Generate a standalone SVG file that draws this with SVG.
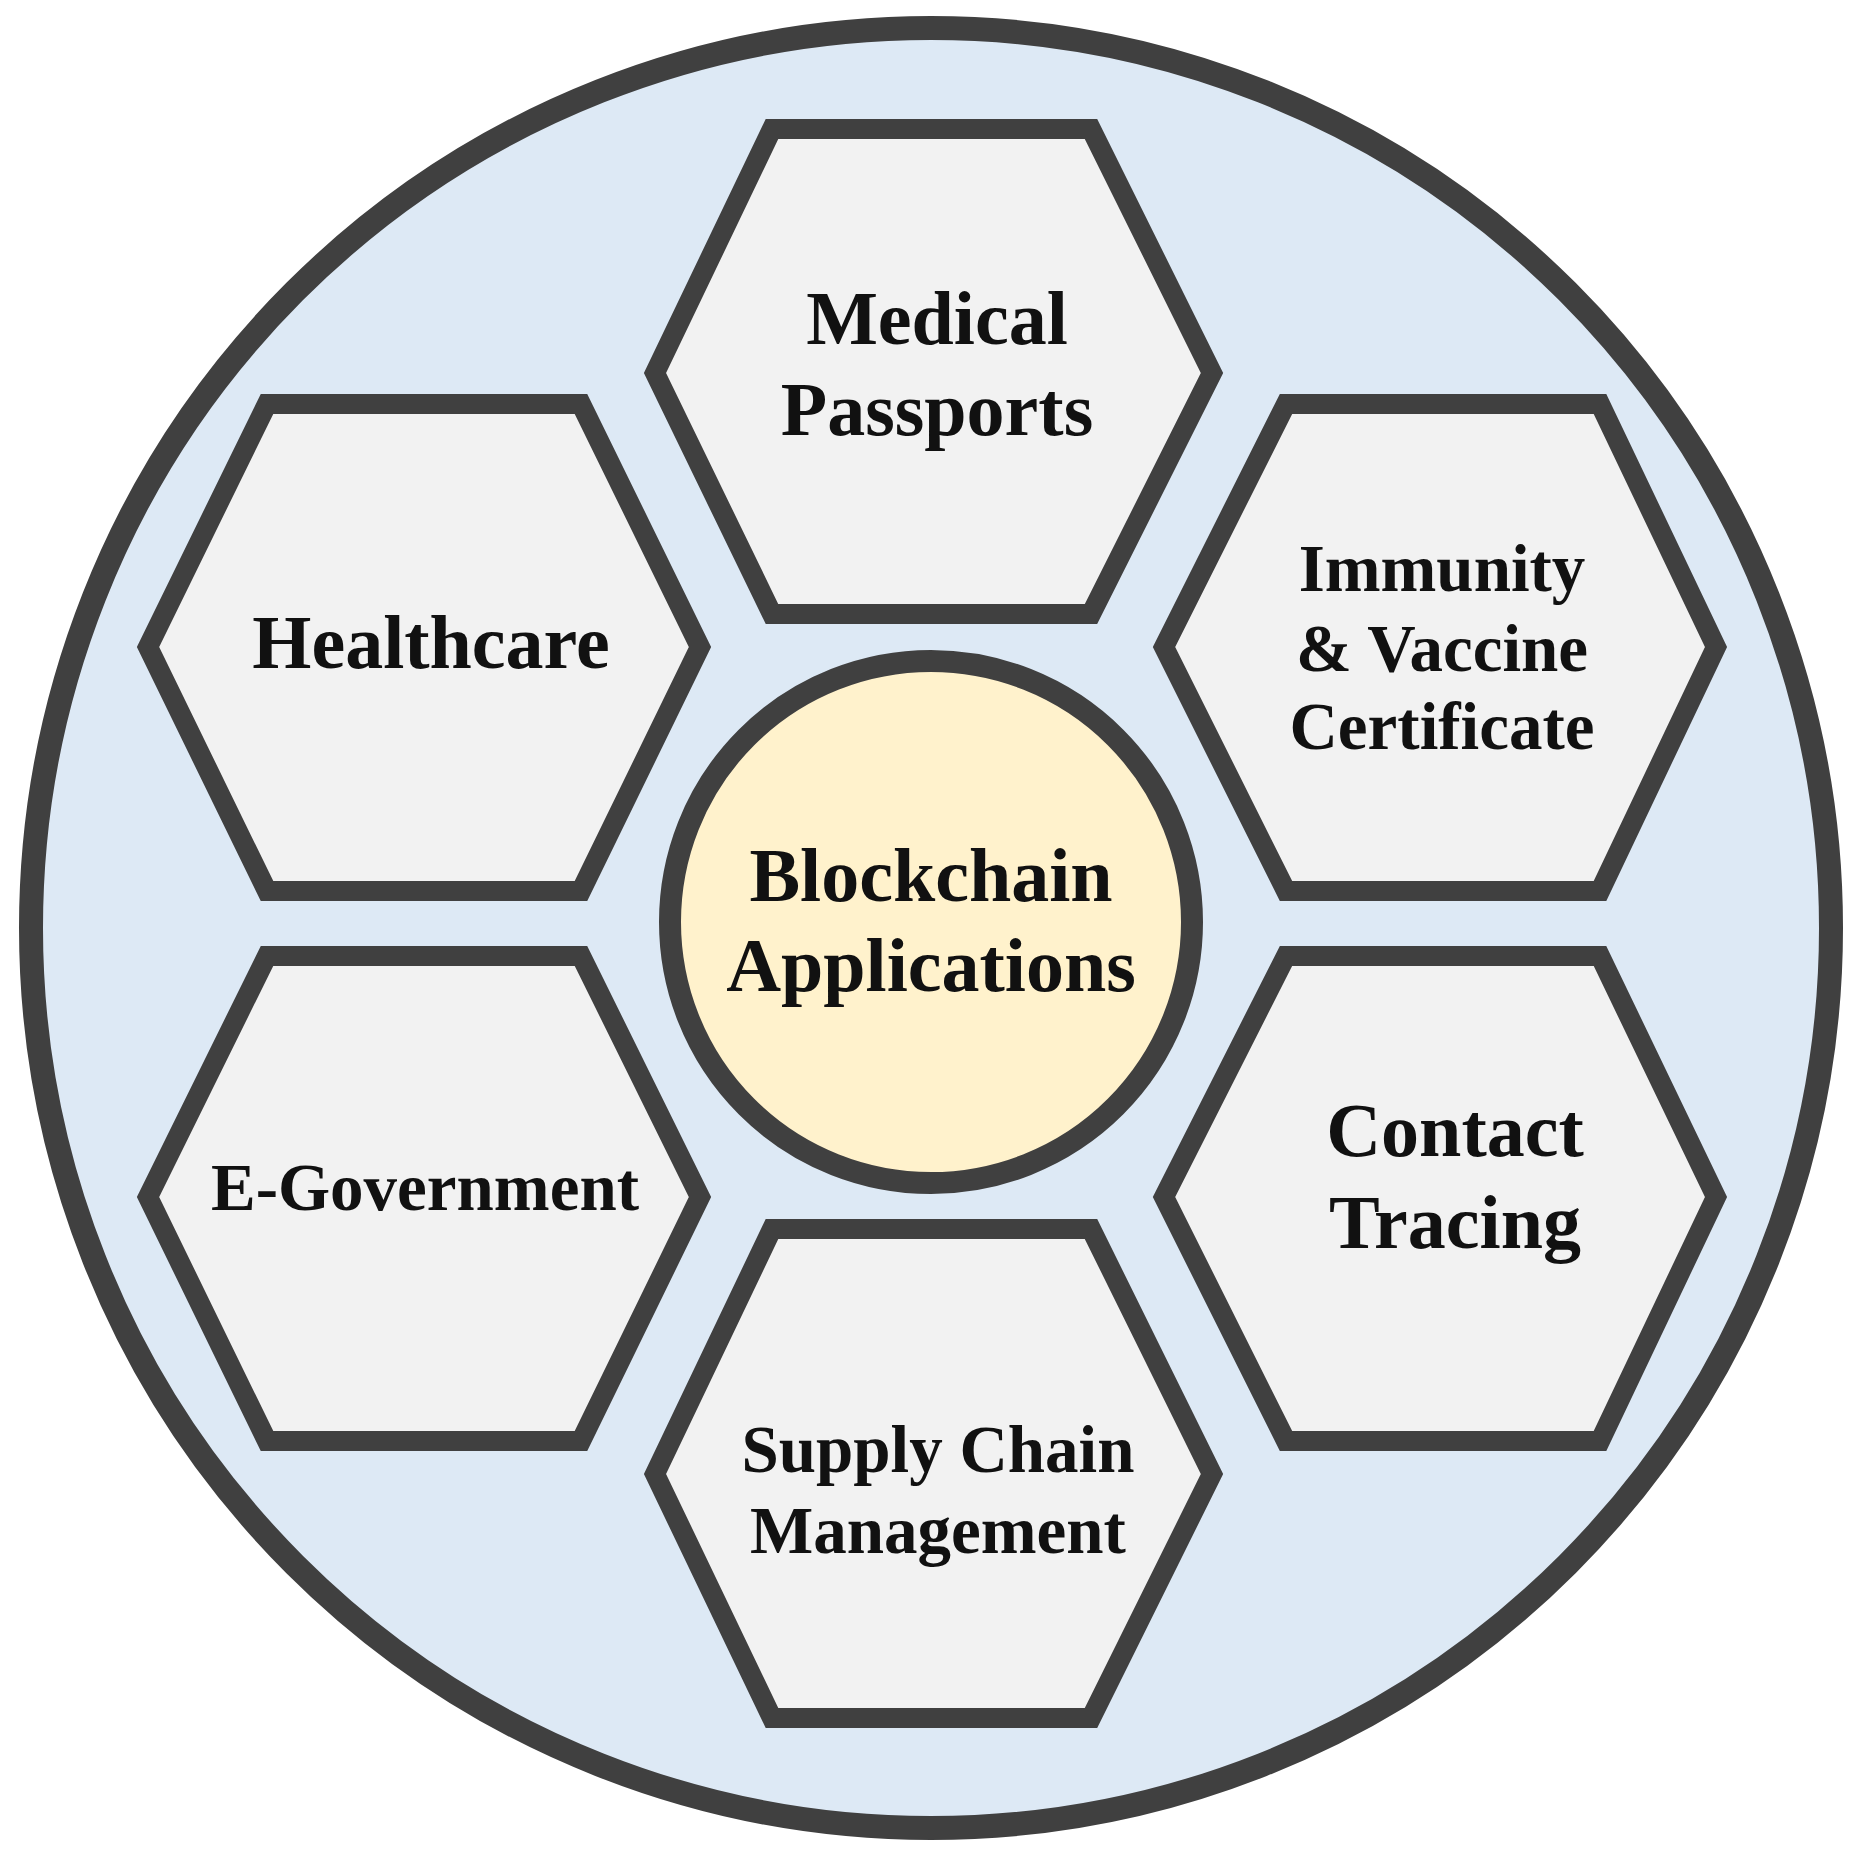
<svg xmlns="http://www.w3.org/2000/svg" width="1864" height="1861" viewBox="0 0 1864 1861">
<style>
.hex{fill:#f2f2f2;stroke:#404040;stroke-width:20;stroke-linejoin:miter}
.t{font-family:"Liberation Serif",serif;font-weight:bold;fill:#111;text-anchor:middle}
.l{font-size:76px}.s{font-size:67px}
</style>
<rect width="1864" height="1861" fill="#fff"/>
<g transform="translate(-5,-5)">
<g id="outer"><circle cx="936" cy="933" r="900" fill="#dde9f5" stroke="#404040" stroke-width="24"/></g>
<g id="connectors"/>
<g id="medical"><polygon class="hex" points="777,134 1096,134 1217,378 1096,619 777,619 660,378"/>
<text class="t l" x="942" y="349">Medical</text><text class="t l" x="942" y="440">Passports</text></g>
<g id="healthcare"><polygon class="hex" points="272,409 586,409 705,652 586,896 272,896 153,652"/>
<text class="t l" x="436" y="673">Healthcare</text></g>
<g id="immunity"><polygon class="hex" points="1291,409 1605,409 1721,652 1605,896 1291,896 1169,652"/>
<text class="t s" x="1447" y="596">Immunity</text><text class="t s" x="1447" y="676">&amp; Vaccine</text><text class="t s" x="1447" y="754">Certificate</text></g>
<g id="egov"><polygon class="hex" points="272,961 586,961 705,1202 586,1446 272,1446 153,1202"/>
<text class="t s" x="430" y="1215">E-Government</text></g>
<g id="contact"><polygon class="hex" points="1291,961 1605,961 1721,1202 1605,1446 1291,1446 1169,1202"/>
<text class="t l" x="1460" y="1161">Contact</text><text class="t l" x="1460" y="1253">Tracing</text></g>
<g id="supply"><polygon class="hex" points="777,1234 1096,1234 1217,1479 1096,1723 777,1723 660,1479"/>
<text class="t s" x="943" y="1477">Supply Chain</text><text class="t s" x="943" y="1558">Management</text></g>
<g id="center"><circle cx="936" cy="927" r="261" fill="#fff2cc" stroke="#404040" stroke-width="22"/>
<text class="t l" x="936" y="906">Blockchain</text><text class="t l" x="936" y="996">Applications</text></g>
</g>
</svg>
